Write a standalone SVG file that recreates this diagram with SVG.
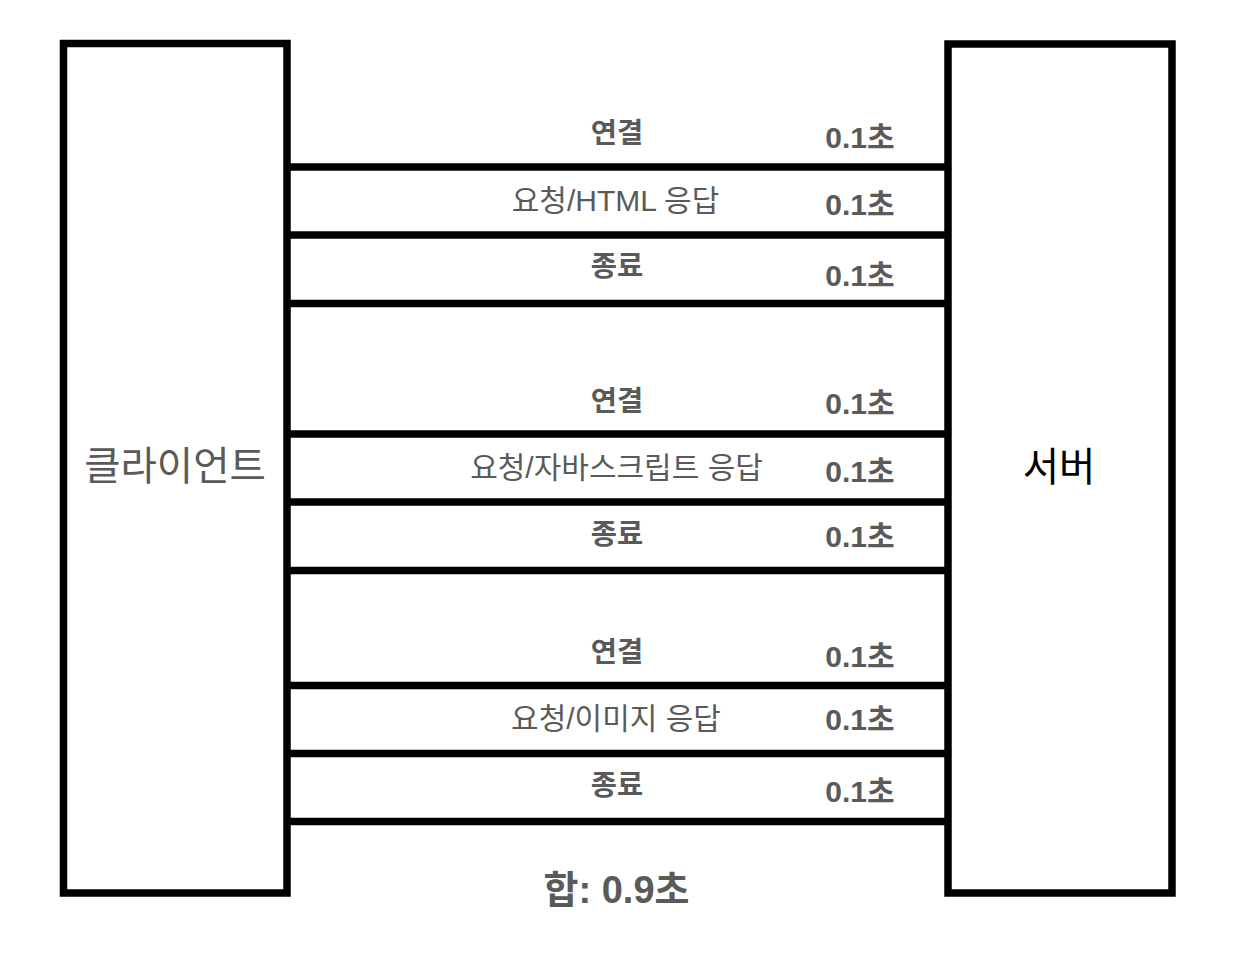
<svg xmlns="http://www.w3.org/2000/svg" width="1234" height="974" viewBox="0 0 1234 974">
<style>
.box{fill:#fff;stroke:#000;stroke-width:7.5}
.ln{stroke:#000;stroke-width:7.5}
.t{font-family:"Liberation Sans","Noto Sans CJK KR",sans-serif;fill:#5a5a5a}
.b{font-weight:bold}
.lab{font-size:30px;text-anchor:middle}
.lb{font-size:28.5px;font-weight:bold;text-anchor:middle}
.sec{font-size:30px;font-weight:bold;text-anchor:middle}
.big{font-size:39.5px;text-anchor:middle}
</style>
<rect width="1234" height="974" fill="#fff"/>
<g id="client">
<rect class="box" x="63.5" y="43.5" width="223.5" height="849.5"/>
<text class="t big" x="175" y="480">클라이언트</text>
</g>
<g id="server">
<rect class="box" x="948" y="44" width="224" height="849"/>
<text class="t big" x="1059" y="481" style="fill:#000">서버</text>
</g>
<g id="connectors">
<line class="ln" x1="287" y1="167" x2="948" y2="167"/>
<line class="ln" x1="287" y1="235" x2="948" y2="235"/>
<line class="ln" x1="287" y1="303.5" x2="948" y2="303.5"/>
<line class="ln" x1="287" y1="434" x2="948" y2="434"/>
<line class="ln" x1="287" y1="502" x2="948" y2="502"/>
<line class="ln" x1="287" y1="570.5" x2="948" y2="570.5"/>
<line class="ln" x1="287" y1="685.5" x2="948" y2="685.5"/>
<line class="ln" x1="287" y1="753.5" x2="948" y2="753.5"/>
<line class="ln" x1="287" y1="821.5" x2="948" y2="821.5"/>
</g>
<g id="labels">
<text class="t lb" x="617" y="143">연결</text>
<text class="t lab" x="615.5" y="211">요청/HTML 응답</text>
<text class="t lb" x="617" y="276">종료</text>
<text class="t lb" x="617" y="411">연결</text>
<text class="t lab" x="616.5" y="478">요청/자바스크립트 응답</text>
<text class="t lb" x="617" y="544">종료</text>
<text class="t lb" x="617" y="662">연결</text>
<text class="t lab" x="616" y="729">요청/이미지 응답</text>
<text class="t lb" x="617" y="795">종료</text>
</g>
<g id="times">
<text class="t sec" x="860" y="147.5">0.1초</text>
<text class="t sec" x="860" y="214.5">0.1초</text>
<text class="t sec" x="860" y="285.5">0.1초</text>
<text class="t sec" x="860" y="413.5">0.1초</text>
<text class="t sec" x="860" y="481.5">0.1초</text>
<text class="t sec" x="860" y="546.5">0.1초</text>
<text class="t sec" x="860" y="666.5">0.1초</text>
<text class="t sec" x="860" y="729.5">0.1초</text>
<text class="t sec" x="860" y="801.5">0.1초</text>
</g>
<g id="total">
<text class="t b" x="616.5" y="903" style="font-size:38px;text-anchor:middle">합: 0.9초</text>
</g>
</svg>
